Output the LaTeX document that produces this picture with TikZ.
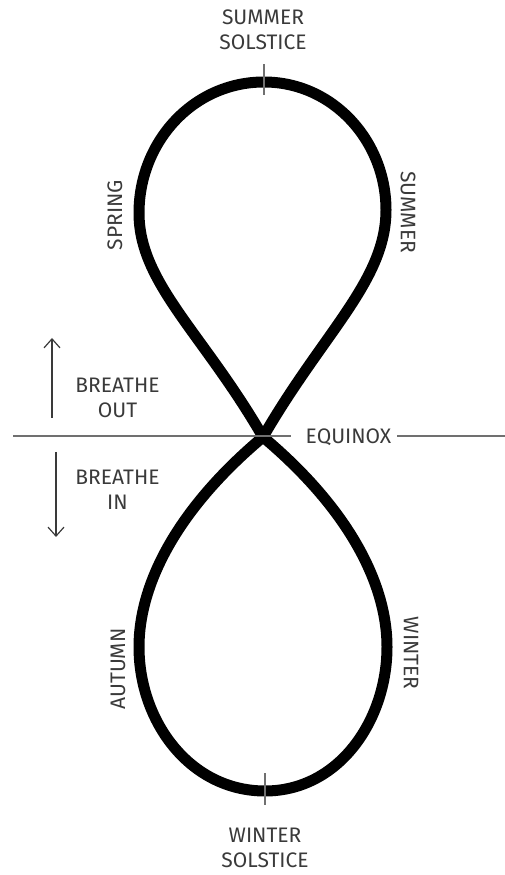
\documentclass[tikz,border=0pt]{standalone}
\usepackage{fontspec}
\setmainfont{Fira Sans}
\usetikzlibrary{arrows.meta,positioning}
\definecolor{SeasonInk}{HTML}{3A3A3A}
\definecolor{SeasonRule}{HTML}{707070}

\begin{document}
\begin{tikzpicture}[
  x=1pt,y=1pt,
  font=\fontsize{21}{25}\selectfont,
  lbl/.style={
    text=SeasonInk,
    align=center,
    inner sep=0pt
  },
  rule/.style={draw=SeasonRule,line width=1.2pt},
  arrow/.style={-{Straight Barb[length=9pt,width=16pt]},line width=1.2pt,draw=SeasonInk},
  eight/.style={draw=black,line width=11pt,line join=round}
]
  \useasboundingbox (0,0) rectangle (505,875);

  % points of the figure eight
  \coordinate (cross) at (263,438);
  \coordinate (upleft) at (139,662);
  \coordinate (uptop) at (264,793);
  \coordinate (upright) at (386,665);
  \coordinate (lowleft) at (139,228);
  \coordinate (lowbot) at (265,84);
  \coordinate (lowright) at (387,228);

  \draw[eight] (cross) to[out=120,in=-90,out looseness=1.2,in looseness=0.7] (upleft)
    to[out=90,in=180] (uptop)
    to[out=0,in=90] (upright)
    to[out=-90,in=60,out looseness=0.7,in looseness=1.2] (cross)
    to[out=-140,in=90,out looseness=1.15,in looseness=0.68] (lowleft)
    to[out=-90,in=180] (lowbot)
    to[out=0,in=-90] (lowright)
    to[out=90,in=-40,out looseness=0.68,in looseness=1.15] (cross) -- cycle;

  % solstice ticks
  \draw[rule] ([yshift=-13pt]uptop) -- ([yshift=18pt]uptop);
  \draw[rule] ([yshift=-14pt]lowbot) -- ([yshift=18pt]lowbot);

  \node[lbl] (sumsol) at (263,845) {SUMMER\\SOLSTICE};
  \node[lbl] (wintsol) at (265,27) {WINTER\\SOLSTICE};

  \node[lbl,rotate=90] (spring) at (115,660) {SPRING};
  \node[lbl,rotate=-90] (summer) at (408,663) {SUMMER};
  \node[lbl,rotate=90] (autumn) at (118,206) {AUTUMN};
  \node[lbl,rotate=-90] (winter) at (411,222) {WINTER};

  % equinox line
  \node[lbl] (equinox) at (348.5,437.5) {EQUINOX};
  \coordinate (eqwest) at (13,439);
  \coordinate (eqeast) at (505,439);
  \draw[rule,shorten >=15pt] (eqwest) -- (eqwest -| equinox.west);
  \draw[rule,shorten <=6pt] (eqeast -| equinox.east) -- (eqeast);

  % breathing
  \node[lbl] (out) at (117.5,477) {BREATHE\\OUT};
  \node[lbl] (in) at (117.5,385) {BREATHE\\IN};
  \coordinate (outlow) at (52,457);
  \coordinate (outhigh) at (52,537);
  \coordinate (inhigh) at (56,423);
  \coordinate (inlow) at (56,338);
  \draw[arrow] (outlow) -- (outhigh);
  \draw[arrow] (inhigh) -- (inlow);
\end{tikzpicture}
\end{document}
